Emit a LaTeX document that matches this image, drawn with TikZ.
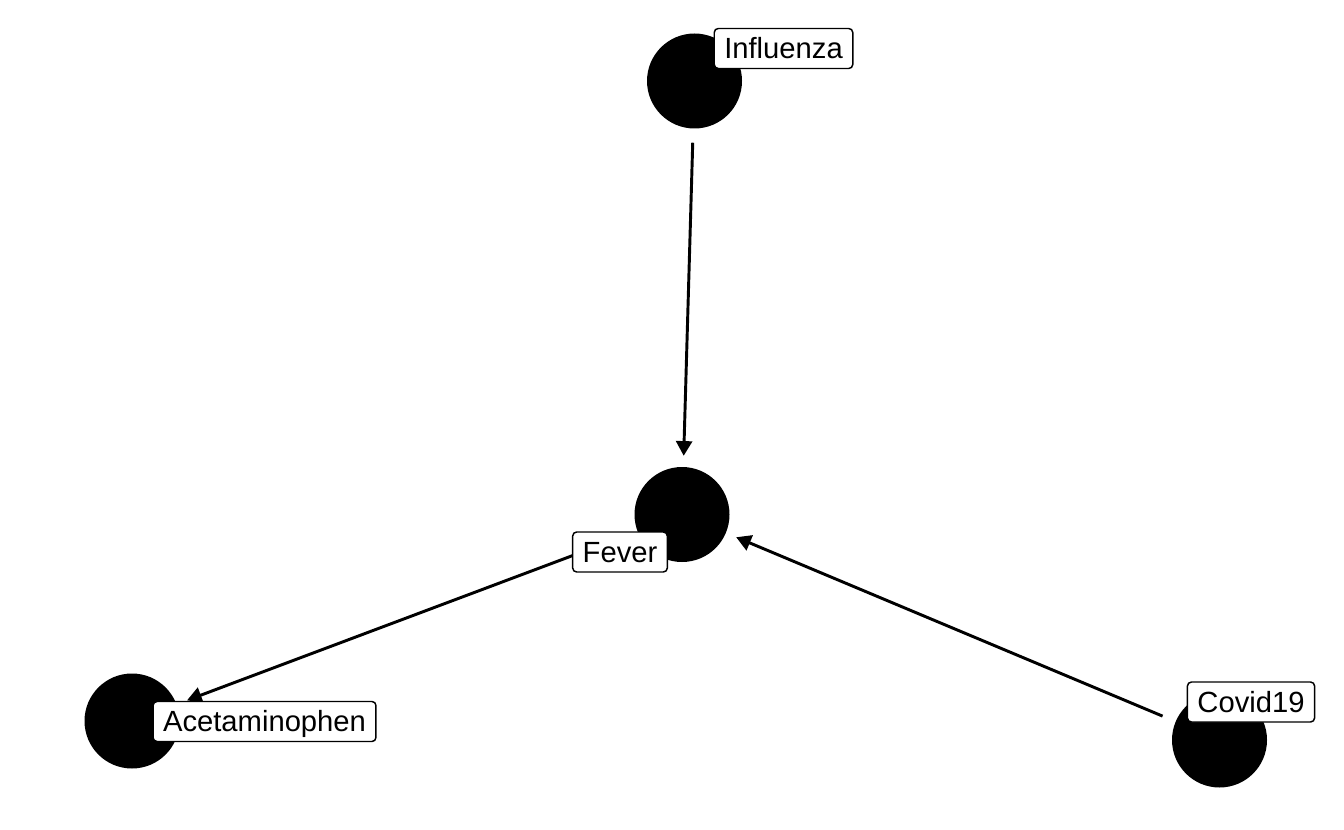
\documentclass[tikz,border=0pt]{standalone}
\usepackage{fontspec}
\setmainfont{Liberation Sans}
\usetikzlibrary{arrows.meta}
\tikzset{
  dot/.style={circle, fill=black, draw=none, minimum size=95*0.75pt, inner sep=0pt},
  lbl/.style={draw=black, line width=1.1pt, fill=white, rounded corners=3pt, inner xsep=7.5pt, inner ysep=0pt, minimum height=40*0.75pt, font=\fontsize{21.9}{24}\selectfont, text height=18pt, text depth=2.3pt},
  edge/.style={line width=2.2pt, -{Triangle[length=11pt, width=12pt]}, shorten <=14*0.75pt, shorten >=11*0.75pt}
}
\begin{document}
\begin{tikzpicture}[x=0.75pt,y=-0.75pt]
\useasboundingbox[fill=white] (0,0) rectangle (1344,830);
\node[dot] (influenza) at (694.5,81) {};
\node[dot] (fever) at (682,514.5) {};
\node[dot] (acet) at (132,721) {};
\node[dot] (covid) at (1219.5,740) {};
\draw[edge] (influenza) -- (fever);
\draw[edge] (fever) -- (acet);
\draw[edge] (covid) -- (fever);
\node[lbl] (linfluenza) at (783.5,48.5) {Influenza};
\node[lbl] (lfever) at (620,552) {Fever};
\node[lbl] (lacet) at (264.5,721.5) {Acetaminophen};
\node[lbl] (lcovid) at (1251,702) {Covid19};
\end{tikzpicture}
\end{document}
